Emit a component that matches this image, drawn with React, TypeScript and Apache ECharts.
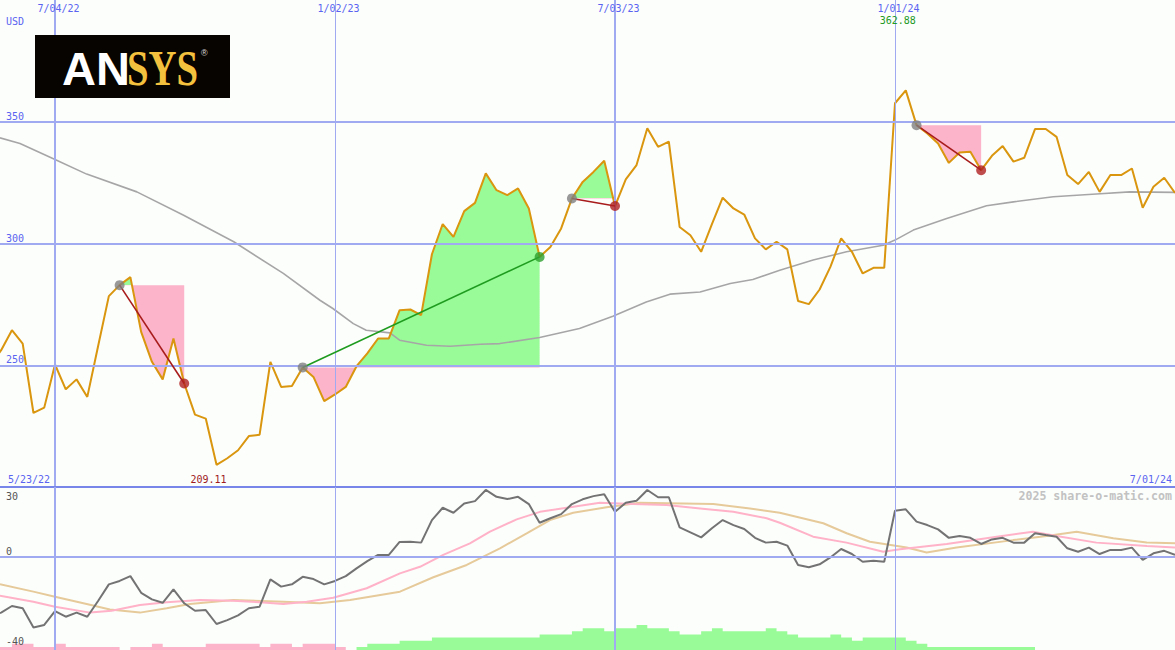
import React, { useEffect, useRef } from "react";
import * as echarts from "echarts";

// x = week index, 0 = 5/23/22 ... 110 = 7/01/24
const X_MIN = 0.893;
const X_MAX = 110;

const dateTicks = [6, 32, 58, 84];
const dateTickLabels = ["7/04/22", "1/02/23", "7/03/23", "1/01/24"];
const dateTickMajor = [true, false, true, false];
const firstDateLabel = "5/23/22";
const lastDateLabel = "7/01/24";
const currencyLabel = "USD";
const priceTicks = [250, 300, 350];
const oscTicks = [30, 0, -40];
const watermark = "2025 share-o-matic.com";

// weekly closes
const prices = [
  250.0, 256.2, 264.4, 258.9, 230.4, 232.6, 250.3, 240.1, 244.2, 237.0,
  257.8, 278.4, 282.9, 286.2, 263.7, 251.4, 244.2, 261.0, 242.5, 229.7,
  228.1, 209.11, 211.8, 215.1, 220.9, 221.5, 251.4, 241.1, 241.5, 249.1,
  245.2, 235.3, 238.0, 241.1, 249.6, 254.9, 261.0, 261.0, 272.6, 272.9,
  270.6, 295.6, 308.0, 302.7, 313.3, 316.7, 328.8, 321.9, 319.9, 322.6,
  314.4, 294.5, 298.6, 306.2, 318.5, 325.3, 329.4, 334.0, 315.4, 326.3,
  332.2, 347.3, 339.7, 341.8, 306.8, 303.4, 296.6, 308.0, 318.8, 314.4,
  311.9, 302.1, 297.6, 300.7, 297.6, 276.4, 275.1, 281.1, 290.4, 302.1,
  296.6, 287.7, 290.0, 290.0, 357.6, 362.88, 348.6, 345.2, 341.1, 333.1,
  337.4, 337.7, 330.1, 336.0, 340.0, 333.6, 335.2, 347.0, 347.0, 343.8,
  328.1, 324.4, 329.4, 321.2, 328.1, 328.1, 330.8, 314.7, 323.3, 327.0, 320.8,
];

// moving average, [week, value]
const movingAvg = [
  [0.89, 343.4], [2.75, 341.1], [6, 334.5], [8.94, 328.5], [13.6, 321.2], [17.9, 311.7],
  [22.6, 300.7], [27.2, 287.7], [30.6, 276.7], [31.8, 273.3], [33.7, 267.1], [34.9, 264.4],
  [37.1, 263.3], [38, 260.3], [40.5, 258.2], [42.7, 257.8], [45.5, 258.6], [47.3, 258.9],
  [51, 261.4], [54.7, 265.1], [57.8, 270.1], [60.9, 276.0], [63.1, 279.2], [65.9, 280.1],
  [68.7, 283.6], [70.8, 285.2], [73.3, 289.0], [76.4, 293.2], [79.5, 296.6], [82.9, 299.3],
  [84, 301.4], [85.7, 305.5], [88.8, 310.3], [92.5, 315.5], [95, 317.1], [98.7, 319.2],
  [102.7, 320.3], [105.8, 321.2], [110, 321.0],
];

const trendStarts = [12, 29, 54, 86];
const trendEnds = [18, 51, 58, 92];

// lower panel
const oscillator = [
  -26, -24.6, -21.7, -22.7, -31.1, -30.0, -23.9, -26.4, -24.6, -26.4,
  -19.5, -12.2, -10.7, -8.6, -15.9, -18.8, -20.3, -14.4, -20.5, -23.8,
  -23.5, -29.6, -27.9, -25.8, -22.7, -22.0, -10.0, -13.2, -12.2, -8.9,
  -9.9, -12.2, -10.7, -8.6, -5.2, -2.0, 0.7, 0.7, 6.4, 6.5,
  6.1, 16.0, 21.4, 19.2, 23.3, 24.3, 29.2, 26.2, 25.2, 26.2,
  23.0, 14.8, 16.8, 18.6, 23.0, 25.1, 26.5, 27.3, 19.6, 23.6,
  24.5, 29.2, 26.0, 26.0, 12.8, 10.6, 8.4, 12.4, 16.0, 13.8,
  12.1, 8.2, 6.1, 6.5, 4.8, -3.7, -4.7, -3.4, -0.4, 3.3,
  1.1, -2.3, -1.8, -2.3, 20.1, 20.7, 15.3, 13.8, 11.9, 8.2,
  9.0, 8.2, 5.5, 7.5, 8.2, 6.1, 6.1, 10.2, 9.4, 8.7,
  3.6, 2.1, 3.9, 1.1, 2.9, 2.9, 3.9, -1.5, 1.4, 2.5, 0.7,
];

const signalPink = [
  [0.89, -17.2], [3.99, -19.8], [6, -22.0], [9.25, -24.6], [11.26, -23.8], [13.89, -21.3],
  [16.37, -20.1], [19.46, -19.1], [22.56, -19.4], [25.03, -20.1], [27.2, -20.8], [29.37, -19.8],
  [31.84, -18.1], [34.94, -13.9], [38.03, -7.4], [39.89, -4.5], [42.05, 0.7], [44.53, 5.8],
  [46.39, 10.9], [48.87, 16.3], [51.03, 19.6], [53.51, 21.4], [56.6, 23.6], [59.7, 23.0],
  [62.8, 22.6], [65.9, 21.1], [68.98, 19.6], [72.08, 16.8], [73.3, 14.8], [76.4, 8.7],
  [79.5, 6.1], [82.9, 2.1], [84.46, 3.2], [88.8, 5.5], [93.44, 8.7], [96.8, 10.9],
  [99.0, 9.0], [102.7, 6.1], [107.4, 4.6], [110, 4.0],
];

const signalTan = [
  [0.89, -12.2], [3.99, -15.4], [6, -17.6], [8.94, -20.8], [11.1, -23.2], [13.89, -24.6],
  [16.37, -22.7], [18.53, -20.8], [22.56, -19.1], [27.2, -19.8], [30.6, -20.5], [33.4, -19.1],
  [38.03, -15.4], [41.13, -9.1], [44.23, -3.7], [47.32, 3.6], [49.8, 10.2], [51.96, 16.0],
  [54.12, 19.2], [57.22, 21.6], [60.31, 23.6], [64.34, 23.3], [67.12, 23.0], [70.53, 21.1],
  [73.3, 19.2], [77.34, 14.6], [79.51, 10.2], [81.67, 6.5], [85.08, 4.0], [86.94, 1.8],
  [89.72, 4.0], [94.98, 7.2], [98.08, 9.0], [100.87, 10.9], [104.27, 8.0], [107.37, 6.2],
  [110, 5.8],
];

// histogram levels (negative = pink, positive = green)
const histLevels = [
  -1, -1, -2, -2, -1, -1, -2, -1, -1, -1,
  -1, -1, 0, -1, -1, -2, -1, -1, -1, -1,
  -2, -2, -2, -2, -2, -1, -2, -2, -1, -2,
  -2, -2, -1, 0, 1, 2, 2, 2, 3, 3,
  3, 4, 4, 4, 4, 4, 4, 4, 4, 4,
  4, 5, 5, 5, 6, 7, 7, 6, 7, 7,
  8, 7, 7, 6, 5, 5, 6, 7, 6, 6,
  6, 6, 7, 6, 5, 4, 4, 4, 5, 4,
  3, 4, 4, 4, 4, 3, 2, 1, 1, 1,
  1, 1, 1, 1, 1, 1, 1, 0, 0, 0,
  0, 0, 0, 0, 0, 0, 0, 0, 0, 0, 0,
];

const BG = "#fcfefc";
const GRID = "#a0aaf0";
const SEP = "#7886ea";
const LABEL = "#5a64f0";
const PRICE = "#d9960e";
const MA = "#a6a6a6";
const PINK = "#fbb4c9";
const GREEN = "#98fb98";
const TREND_RED = "#a81c1c";
const TREND_GREEN = "#1f9c1f";
const DOT_GRAY = "#808080";
const DOT_RED = "#b02020";
const DOT_GREEN = "#2ea02e";
const FONT = '"DejaVu Sans Mono", monospace';

export default function App() {
  const ref = useRef<HTMLDivElement>(null);

  useEffect(() => {
    if (!ref.current) return;
    const chart = echarts.init(ref.current, undefined, { renderer: "svg" });

    const priceData = prices.map((v, i) => [i, v]);
    const oscData = oscillator.map((v, i) => [i, v]);
    const pinkHist = histLevels.map((v, i) => [i, v < 0 ? -v : 0]);
    const greenHist = histLevels.map((v, i) => [i, v > 0 ? v : 0]);

    const series: any[] = [];
    const visualMaps: any[] = [];

    // grid lines, upper panel
    series.push({
      type: "line", xAxisIndex: 0, yAxisIndex: 0, data: [], z: 1, silent: true,
      markLine: {
        silent: true, symbol: ["none", "none"], label: { show: false }, animation: false,
        data: [
          ...priceTicks.map((v) => ({ yAxis: v, lineStyle: { color: GRID, width: 2, type: "solid" } })),
          ...dateTicks.map((w, k) => ({ xAxis: w, lineStyle: { color: GRID, width: dateTickMajor[k] ? 2 : 1, type: "solid" } })),
          { yAxis: 200, lineStyle: { color: SEP, width: 2, type: "solid" } },
        ],
      },
    });
    // grid lines, lower panel
    series.push({
      type: "line", xAxisIndex: 1, yAxisIndex: 1, data: [], z: 1, silent: true,
      markLine: {
        silent: true, symbol: ["none", "none"], label: { show: false }, animation: false,
        data: [
          { yAxis: 0, lineStyle: { color: GRID, width: 2, type: "solid" } },
          ...dateTicks.map((w, k) => ({ xAxis: w, lineStyle: { color: GRID, width: dateTickMajor[k] ? 2 : 1, type: "solid" } })),
        ],
      },
    });

    // fills for trend segments
    trendStarts.forEach((s, k) => {
      const e = trendEnds[k];
      const base = prices[s];
      const idx = series.length;
      series.push({
        type: "line", xAxisIndex: 0, yAxisIndex: 0, z: 2, silent: true,
        data: priceData.slice(s, e + 1), symbol: "none",
        lineStyle: { width: 0, opacity: 0 },
        areaStyle: { origin: base, opacity: 1 },
      });
      visualMaps.push({
        type: "piecewise", show: false, seriesIndex: idx, dimension: 1,
        pieces: [
          { gte: 100, lt: base, color: PINK },
          { gte: base, lte: 500, color: GREEN },
        ],
      });
    });

    // moving average
    series.push({
      type: "line", xAxisIndex: 0, yAxisIndex: 0, z: 3, silent: true,
      data: movingAvg, symbol: "none", lineStyle: { color: MA, width: 1.6 },
    });

    // price
    series.push({
      type: "line", xAxisIndex: 0, yAxisIndex: 0, z: 4, silent: true,
      data: priceData, symbol: "none", lineStyle: { color: PRICE, width: 2 },
    });

    // trend lines
    trendStarts.forEach((s, k) => {
      const e = trendEnds[k];
      const up = prices[e] > prices[s];
      series.push({
        type: "line", xAxisIndex: 0, yAxisIndex: 0, z: 5, silent: true,
        data: [priceData[s], priceData[e]], symbol: "none",
        lineStyle: { color: up ? TREND_GREEN : TREND_RED, width: 1.6 },
      });
    });

    // dots
    series.push({
      type: "scatter", xAxisIndex: 0, yAxisIndex: 0, z: 6, silent: true, symbolSize: 10,
      data: [
        ...trendStarts.map((s) => ({ value: priceData[s], itemStyle: { color: DOT_GRAY } })),
        ...trendEnds.map((e, k) => ({
          value: priceData[e],
          itemStyle: { color: prices[e] > prices[trendStarts[k]] ? DOT_GREEN : DOT_RED },
        })),
      ],
    });

    // lower panel histogram
    series.push({
      type: "line", xAxisIndex: 1, yAxisIndex: 2, z: 2, silent: true, step: "end",
      data: pinkHist, symbol: "none", lineStyle: { width: 0, opacity: 0 },
      areaStyle: { color: PINK, opacity: 1 },
    });
    series.push({
      type: "line", xAxisIndex: 1, yAxisIndex: 2, z: 2, silent: true, step: "end",
      data: greenHist, symbol: "none", lineStyle: { width: 0, opacity: 0 },
      areaStyle: { color: GREEN, opacity: 1 },
    });
    // lower panel lines
    series.push({
      type: "line", xAxisIndex: 1, yAxisIndex: 1, z: 3, silent: true,
      data: signalTan, symbol: "none", lineStyle: { color: "#e6ca9a", width: 2 },
    });
    series.push({
      type: "line", xAxisIndex: 1, yAxisIndex: 1, z: 3, silent: true,
      data: signalPink, symbol: "none", lineStyle: { color: "#ffb2c8", width: 2 },
    });
    series.push({
      type: "line", xAxisIndex: 1, yAxisIndex: 1, z: 4, silent: true,
      data: oscData, symbol: "none", lineStyle: { color: "#737373", width: 2 },
    });

    const hiddenAxis = {
      axisLine: { show: false }, axisTick: { show: false },
      axisLabel: { show: false }, splitLine: { show: false },
    };

    chart.setOption({
      animation: false,
      backgroundColor: BG,
      grid: [
        { left: 0, top: 0, width: 1175, height: 487 },
        { left: 0, top: 487, width: 1175, height: 163 },
      ],
      xAxis: [
        { type: "value", gridIndex: 0, min: X_MIN, max: X_MAX, ...hiddenAxis },
        { type: "value", gridIndex: 1, min: X_MIN, max: X_MAX, ...hiddenAxis },
      ],
      yAxis: [
        { type: "value", gridIndex: 0, min: 200, max: 400, ...hiddenAxis },
        { type: "value", gridIndex: 1, min: -41, max: 30.5, ...hiddenAxis },
        { type: "value", gridIndex: 1, min: 0, max: 52.16, ...hiddenAxis },
      ],
      visualMap: visualMaps,
      series,
    });

    const px = (w: number) => chart.convertToPixel({ xAxisIndex: 0 }, w) as number;
    const py = (v: number) => chart.convertToPixel({ yAxisIndex: 0 }, v) as number;
    const py2 = (v: number) => chart.convertToPixel({ yAxisIndex: 1 }, v) as number;

    const txt = (text: string, x: number, y: number, fill: string, align = "left", font = `10px ${FONT}`) => ({
      type: "text", x, y, silent: true, z: 20,
      style: { text, fill, font, align, verticalAlign: "middle" },
    });

    let maxIdx = 0, minIdx = 0;
    prices.forEach((v, i) => {
      if (v > prices[maxIdx]) maxIdx = i;
      if (v < prices[minIdx]) minIdx = i;
    });

    const graphics: any[] = [
      ...dateTicks.map((w, k) => txt(dateTickLabels[k], px(w) + 3.5, 8.5, LABEL, "center")),
      txt(currencyLabel, 6, 21, LABEL),
      ...priceTicks.map((v) => txt(String(v), 6, py(v) - 5.5, LABEL)),
      txt(prices[maxIdx].toFixed(2), px(maxIdx) - 8, 20.5, "#239a23", "center"),
      txt(prices[minIdx].toFixed(2), px(minIdx) - 8, 479, "#a01c1c", "center"),
      txt(firstDateLabel, 8, 479, LABEL),
      txt(lastDateLabel, 1172, 479, LABEL, "right"),
      txt(watermark, 1172, 495.5, "#c2c2c2", "right", `bold 11.6px ${FONT}`),
      txt(String(oscTicks[0]), 6, py2(oscTicks[0]) + 8, "#555555"),
      txt(String(oscTicks[1]), 6, py2(oscTicks[1]) - 5.5, "#555555"),
      txt(String(oscTicks[2]), 6, py2(oscTicks[2]) - 6, "#555555"),
      // logo
      { type: "rect", shape: { x: 35, y: 35, width: 195, height: 63 }, style: { fill: "#070400" }, z: 20, silent: true },
      {
        type: "text", x: 62, y: 68, z: 21, silent: true,
        style: { text: "AN", fill: "#ffffff", font: 'bold 47px "Liberation Sans"', align: "left", verticalAlign: "middle" },
      },
      {
        type: "text", x: 127, y: 68, z: 21, silent: true, scaleX: 0.76,
        style: { text: "SYS", fill: "#f4c13e", font: 'bold 51px "Liberation Serif"', align: "left", verticalAlign: "middle" },
      },
      {
        type: "text", x: 201, y: 53, z: 21, silent: true,
        style: { text: "®", fill: "#dddddd", font: '9px "Liberation Sans"', align: "left", verticalAlign: "middle" },
      },
    ];

    chart.setOption({ graphic: graphics });

    return () => chart.dispose();
  }, []);

  return (
    <div
      ref={ref}
      style={{ position: "fixed", left: 0, top: 0, width: 1175, height: 650 }}
    />
  );
}
